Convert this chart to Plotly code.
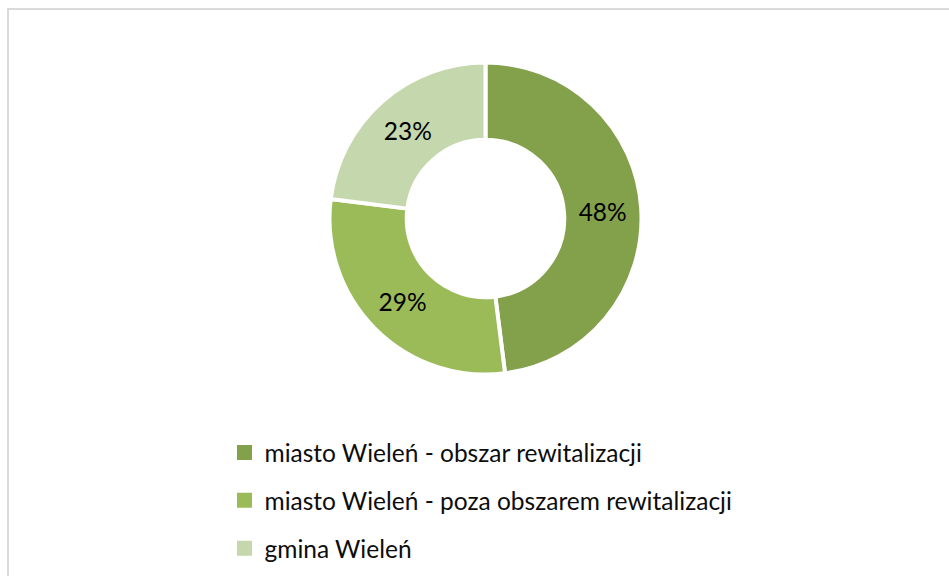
import plotly.graph_objects as go

labels = ["miasto Wieleń - obszar rewitalizacji",
          "miasto Wieleń - poza obszarem rewitalizacji",
          "gmina Wieleń"]
values = [48, 29, 23]
colors = ["#83A04B", "#9BBB59", "#C5D7AC"]

W, H = 949, 576
cx, cy, r = 485.5, 218.5, 156
hole = 0.505

fig = go.Figure()
fig.add_trace(go.Pie(
    labels=labels, values=values, hole=hole, sort=False,
    direction="clockwise", rotation=0,
    marker=dict(colors=colors, line=dict(color="white", width=4)),
    textinfo="percent", texttemplate="%{percent:.0%}",
    textposition="inside", insidetextorientation="horizontal",
    textfont=dict(family="Lato", size=24.5, color="#000000"),
    showlegend=False, hoverinfo="label+percent",
    domain=dict(x=[(cx - r) / W, (cx + r) / W],
                y=[(H - cy - r) / H, (H - cy + r) / H]),
))

# legend entries (one group per category for spacing)
for i, (lab, col) in enumerate(zip(labels, colors)):
    fig.add_trace(go.Scatter(
        x=[None], y=[None], mode="markers", name=lab,
        marker=dict(symbol="square", size=15, color=col),
        legendgroup=f"g{i}", showlegend=True, hoverinfo="skip",
    ))

fig.update_layout(
    width=W, height=H,
    margin=dict(l=0, r=0, t=0, b=0),
    paper_bgcolor="white", plot_bgcolor="white",
    xaxis=dict(visible=False), yaxis=dict(visible=False),
    legend=dict(
        x=224.5 / W, xanchor="left", y=1 - 430 / H, yanchor="top",
        font=dict(family="Lato", size=24.5, color="#0d0d0d"),
        tracegroupgap=13, bgcolor="rgba(0,0,0,0)",
    ),
    shapes=[dict(type="rect", xref="paper", yref="paper",
                 x0=8 / W, x1=1.05, y0=-0.05, y1=1 - 9 / H,
                 line=dict(color="#d9d9d9", width=2), layer="below")],
)

fig.write_html("out.html", config={"displayModeBar": False},
               post_script="document.body.style.margin='0';document.body.style.padding='0';window.dispatchEvent(new Event('resize'));")
